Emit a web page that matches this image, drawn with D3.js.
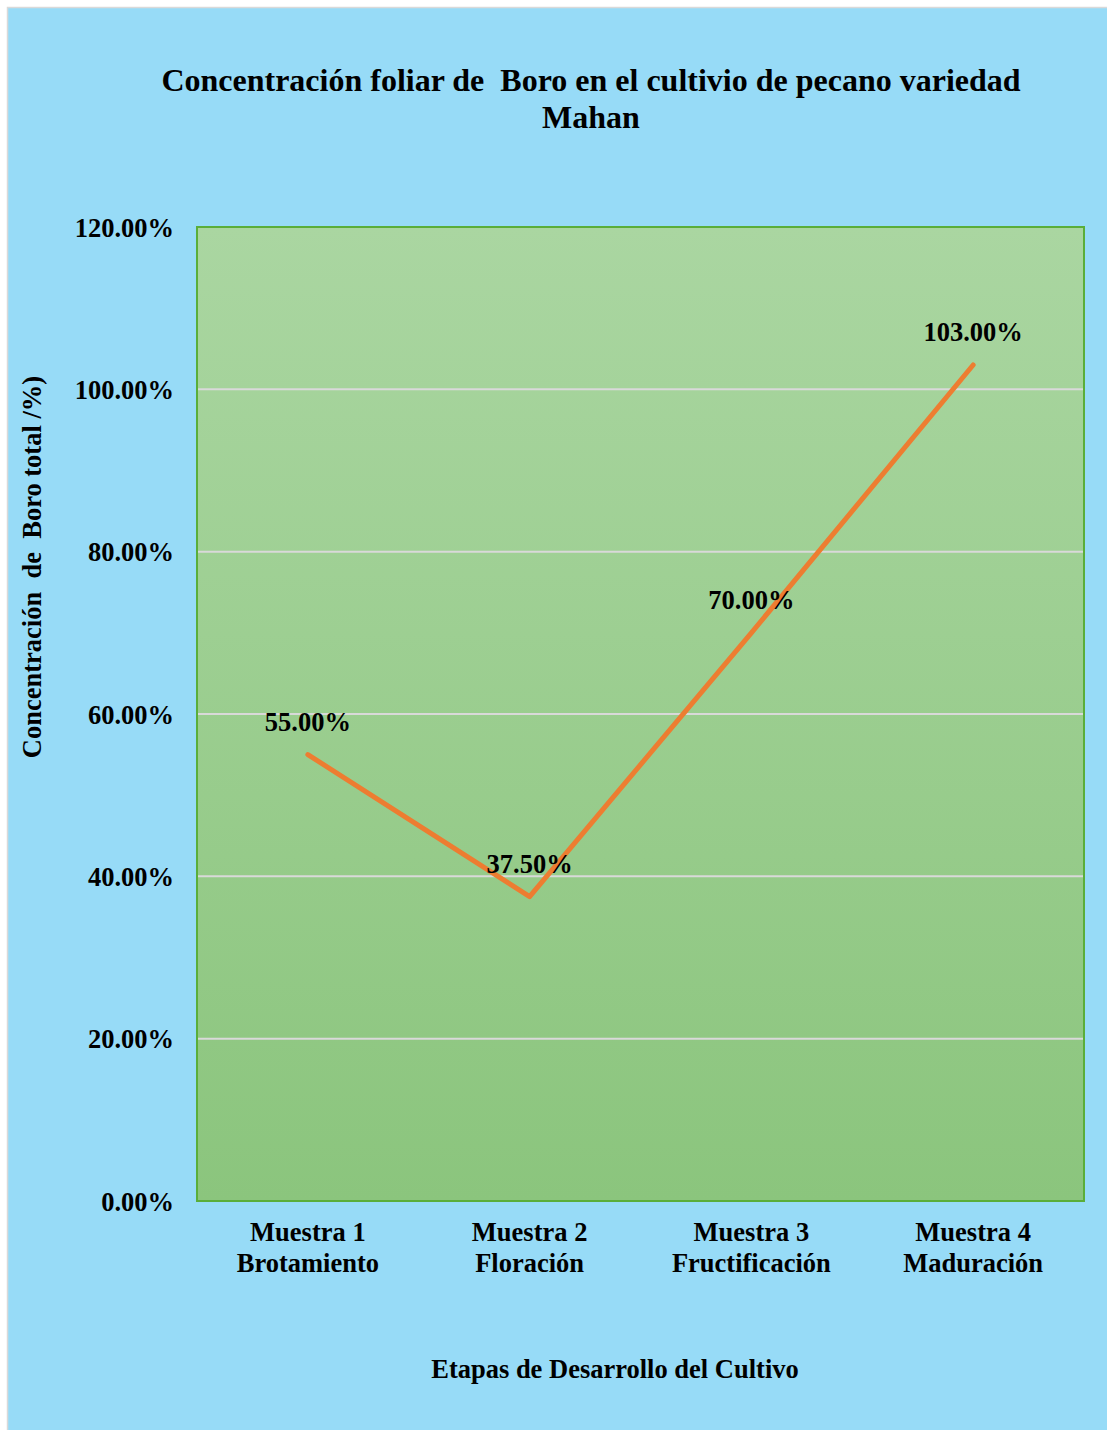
<!DOCTYPE html>
<html>
<head>
<meta charset="utf-8">
<script src="https://cdn.jsdelivr.net/npm/d3@7"></script>
<style>
  body { margin: 0; background: #fff; }
  text { font-family: "Liberation Serif", "Times New Roman", serif; font-weight: bold; fill: #000; white-space: pre; }
</style>
</head>
<body>
<div id="chart"></div>
<script>
// data
var categories = ["Muestra 1|Brotamiento", "Muestra 2|Floración", "Muestra 3|Fructificación", "Muestra 4|Maduración"];
var values = [55.0, 37.5, 70.0, 103.0];
var yTicks = [0, 20, 40, 60, 80, 100, 120];

var W = 1107, H = 1430;
var margin = { top: 227, right: 23, bottom: 229, left: 197 },
    width  = W - margin.left - margin.right,
    height = H - margin.top - margin.bottom;

var svg = d3.select("#chart").append("svg")
    .attr("width", W)
    .attr("height", H);

// chart background + frame
svg.append("rect")
    .attr("x", 7.5).attr("y", 7.5)
    .attr("width", W).attr("height", H)
    .attr("fill", "#97DBF7")
    .attr("stroke", "#D9D9D9")
    .attr("stroke-width", 1.5);

var defs = svg.append("defs");
var grad = defs.append("linearGradient")
    .attr("id", "plotGrad")
    .attr("x1", 0).attr("y1", 0).attr("x2", 0).attr("y2", 1);
grad.append("stop").attr("offset", "0%").attr("stop-color", "#AAD6A1");
grad.append("stop").attr("offset", "100%").attr("stop-color", "#8BC57D");

var g = svg.append("g")
    .attr("transform", "translate(" + margin.left + "," + margin.top + ")");

var x = d3.scaleBand()
    .domain(categories)
    .range([0, width]);

var y = d3.scaleLinear()
    .domain([0, 120])
    .range([height, 0]);

g.append("rect")
    .attr("width", width)
    .attr("height", height)
    .attr("fill", "url(#plotGrad)");

// gridlines
g.selectAll(".grid")
    .data(yTicks.filter(function(d) { return d > 0 && d < 120; }))
  .enter().append("line")
    .attr("class", "grid")
    .attr("x1", 0).attr("x2", width)
    .attr("y1", function(d) { return y(d); })
    .attr("y2", function(d) { return y(d); })
    .attr("stroke", "#D9D9D9")
    .attr("stroke-width", 2);

// bottom axis line
g.append("line")
    .attr("x1", 0).attr("x2", width)
    .attr("y1", height).attr("y2", height)
    .attr("stroke", "#D0D8B0")
    .attr("stroke-width", 2);

// plot border (green)
g.append("rect")
    .attr("width", width)
    .attr("height", height)
    .attr("fill", "none")
    .attr("stroke", "#5AAE3A")
    .attr("stroke-width", 2);

// y axis
var yAxis = g.append("g")
    .call(d3.axisLeft(y)
      .tickValues(yTicks)
      .tickSize(0)
      .tickPadding(23)
      .tickFormat(function(d) { return d.toFixed(2) + "%"; }));
yAxis.select(".domain").remove();
yAxis.selectAll("text")
    .style("font-size", "26.5px")
    .attr("dy", "0.35em");

// x axis
var xAxis = g.append("g")
    .attr("transform", "translate(0," + height + ")")
    .call(d3.axisBottom(x).tickSize(0).tickFormat(""));
xAxis.select(".domain").remove();
xAxis.selectAll(".tick").each(function(d) {
  var parts = d.split("|");
  var t = d3.select(this).append("text")
      .attr("text-anchor", "middle")
      .style("font-size", "26.5px");
  t.append("tspan").attr("x", 0).attr("y", 40).text(parts[0]);
  t.append("tspan").attr("x", 0).attr("y", 71).text(parts[1]);
});

// line
var line = d3.line()
    .x(function(d, i) { return x(categories[i]) + x.bandwidth() / 2; })
    .y(function(d) { return y(d); });

g.append("path")
    .datum(values)
    .attr("d", line)
    .attr("fill", "none")
    .attr("stroke", "#ED7D31")
    .attr("stroke-width", 5)
    .attr("stroke-linecap", "round")
    .attr("stroke-linejoin", "round");

// data labels
g.selectAll(".lbl")
    .data(values)
  .enter().append("text")
    .attr("class", "lbl")
    .attr("x", function(d, i) { return x(categories[i]) + x.bandwidth() / 2; })
    .attr("y", function(d) { return y(d) - 24; })
    .attr("text-anchor", "middle")
    .style("font-size", "26.5px")
    .text(function(d) { return d.toFixed(2) + "%"; });

// title
svg.append("text")
    .attr("x", 591)
    .attr("y", 91)
    .attr("text-anchor", "middle")
    .style("font-size", "32px")
    .text("Concentración foliar de  Boro en el cultivio de pecano variedad");
svg.append("text")
    .attr("x", 591)
    .attr("y", 128)
    .attr("text-anchor", "middle")
    .style("font-size", "32px")
    .text("Mahan");

// y axis title
svg.append("text")
    .attr("transform", "translate(41,567) rotate(-90)")
    .attr("text-anchor", "middle")
    .style("font-size", "26.5px")
    .text("Concentración  de  Boro total /%)");

// x axis title
svg.append("text")
    .attr("x", 615)
    .attr("y", 1378)
    .attr("text-anchor", "middle")
    .style("font-size", "26.5px")
    .text("Etapas de Desarrollo del Cultivo");
</script>
</body>
</html>
